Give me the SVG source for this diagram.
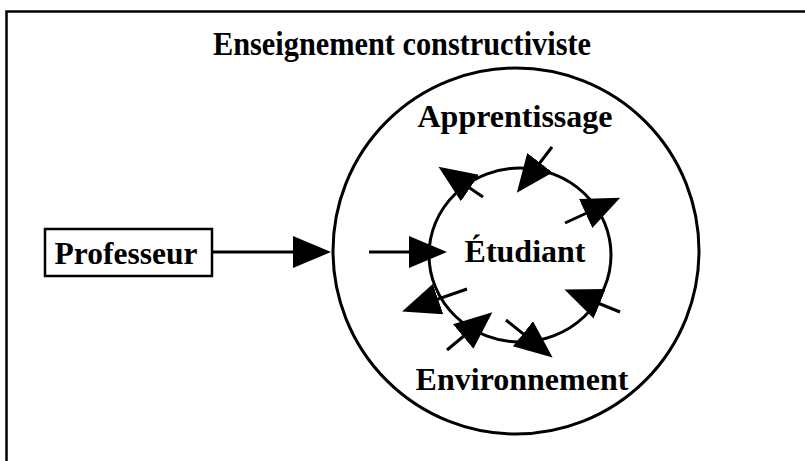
<svg xmlns="http://www.w3.org/2000/svg" width="805" height="461" viewBox="0 0 805 461">
  <style>
    .lbl { font-family: "Liberation Serif", "Times New Roman", serif; font-weight: bold; fill: #000; text-anchor: middle; }
    .ring { fill: none; stroke: #000; stroke-width: 3; }
    .conn { stroke: #000; stroke-width: 3; fill: none; marker-end: url(#head); }
  </style>
  <defs>
    <marker id="head" markerUnits="userSpaceOnUse" markerWidth="42" markerHeight="34" viewBox="0 0 42 34" refX="18" refY="16" orient="auto">
      <path d="M0,0 L38,16 L0,32 z" fill="#000"/>
    </marker>
  </defs>
  <rect width="805" height="461" fill="#fff"/>

  <!-- outer frame: top and left edges -->
  <path d="M6.5,461 L6.5,11.5 L805,11.5" fill="none" stroke="#000" stroke-width="2.5"/>

  <g id="title">
    <text class="lbl" x="402" y="55" font-size="33" textLength="378" lengthAdjust="spacingAndGlyphs">Enseignement constructiviste</text>
  </g>

  <g id="classroom">
    <circle class="ring" cx="516" cy="251" r="183"/>
    <text class="lbl" x="515" y="127" font-size="32">Apprentissage</text>
    <text class="lbl" x="522" y="390" font-size="32">Environnement</text>
  </g>

  <g id="student">
    <ellipse class="ring" cx="520" cy="255" rx="91" ry="87"/>
    <text class="lbl" x="525" y="262" font-size="32">Étudiant</text>
  </g>

  <g id="teacher">
    <rect x="45" y="229" width="167" height="47" fill="#fff" stroke="#000" stroke-width="2.5"/>
    <text class="lbl" x="126" y="264" font-size="31.5">Professeur</text>
  </g>

  <g id="connectors">
    <!-- teacher to classroom -->
    <line class="conn" x1="212" y1="252" x2="311" y2="252"/>
    <!-- exchanges across the student boundary -->
    <line class="conn" x1="369" y1="252" x2="427" y2="252"/>
    <line class="conn" x1="483" y1="197" x2="455" y2="178"/>
    <line class="conn" x1="552" y1="147" x2="529" y2="177"/>
    <line class="conn" x1="565" y1="223" x2="602" y2="206"/>
    <line class="conn" x1="620" y1="312" x2="583" y2="297"/>
    <line class="conn" x1="506" y1="320" x2="537" y2="345"/>
    <line class="conn" x1="447" y1="350" x2="477" y2="325"/>
    <line class="conn" x1="467" y1="289" x2="421" y2="305"/>
  </g>
</svg>
